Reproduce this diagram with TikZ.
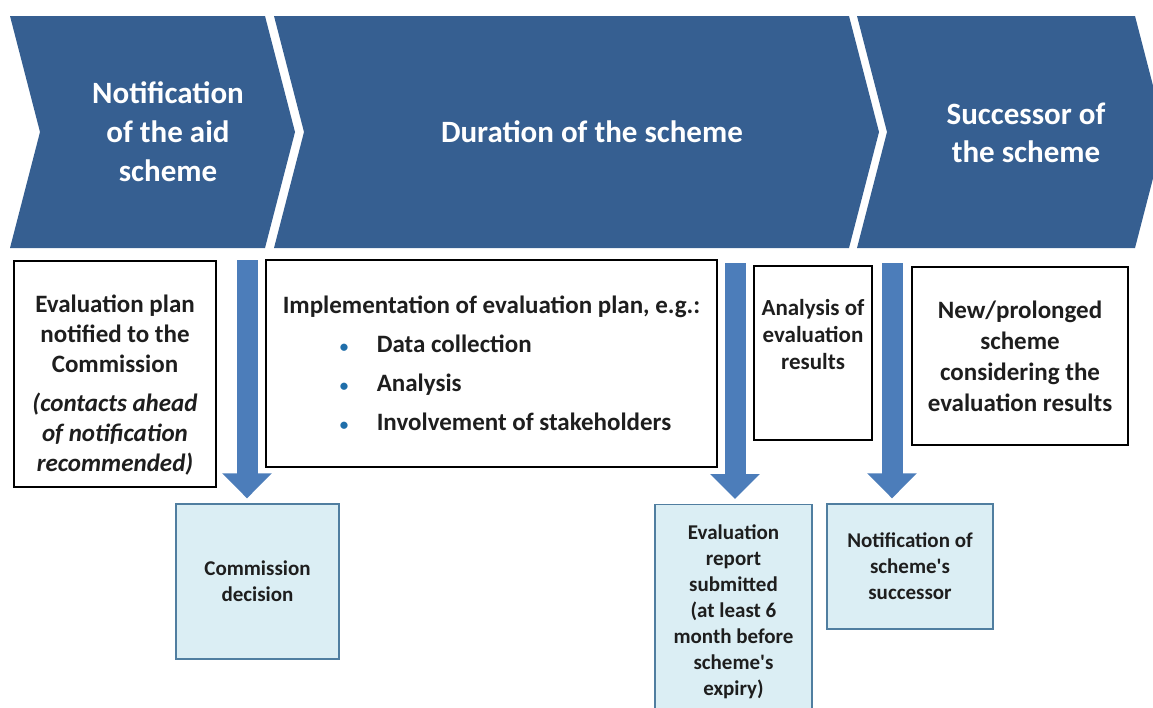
\documentclass[tikz,border=0pt]{standalone}
\usepackage{fontspec}
\setmainfont{Carlito}
\usetikzlibrary{arrows.meta, positioning}

\definecolor{chevblue}{RGB}{54,95,145}
\definecolor{arrowblue}{RGB}{76,125,186}
\definecolor{notefill}{RGB}{219,238,244}
\definecolor{notedraw}{RGB}{80,126,160}
\definecolor{bulletblue}{RGB}{31,110,170}
\definecolor{textdark}{RGB}{30,30,30}

\tikzstyle{phase} = [fill=chevblue, draw=none]
\tikzstyle{phasetext} = [text=white, align=center, font=\fontsize{31}{39}\selectfont\bfseries]
\tikzstyle{task} = [rectangle, draw=black, line width=1.3pt, fill=white, text=textdark, align=center, font=\fontsize{25}{30}\selectfont\bfseries]
\tikzstyle{milestone} = [rectangle, draw=notedraw, line width=1.3pt, fill=notefill, text=textdark, align=center, font=\fontsize{21}{26}\selectfont\bfseries]
\tikzstyle{bigarrow} = [line width=21pt, draw=arrowblue, -{Triangle[length=25pt,width=48pt]}, shorten >=5pt]

\newcommand{\planitem}[1]{\makebox[94pt][l]{\hspace*{57pt}\textcolor{bulletblue}{\fontsize{17}{17}\selectfont\textbullet}}#1}

\begin{document}
\begin{tikzpicture}[x=1pt, y=-1pt]
	\clip (0,0) rectangle (1153,707);

	% phases
	\fill[phase] (10,16) -- (265,16) -- (295,132) -- (265,248) -- (10,248) -- (40,132) -- cycle;
	\fill[phase] (274,16) -- (849,16) -- (879,132) -- (849,248) -- (274,248) -- (304,132) -- cycle;
	\fill[phase] (857,16) -- (1135,16) -- (1165,132) -- (1135,248) -- (857,248) -- (887,132) -- cycle;
	\node (notif) [phasetext] at (168,132) {Notification\\of the aid\\scheme};
	\node (duration) [phasetext] at (592,132) {Duration of the scheme};
	\node (successor) [phasetext, font=\fontsize{31}{38}\selectfont\bfseries] at (1026,133) {Successor of\\the scheme};

	% tasks
	\node (plan) [task, minimum width=202pt, minimum height=226pt] at (115,374) {~\\[10pt]Evaluation plan\\notified to the\\Commission\\[9pt]\itshape(contacts ahead\\\itshape of notification\\\itshape recommended)};
	\node (implement) [task, align=left, font=\fontsize{25}{39}\selectfont\bfseries, minimum width=451pt, minimum height=207pt] at (491.5,363.5) {Implementation of evaluation plan, e.g.:\\\planitem{Data collection}\\\planitem{Analysis}\\\planitem{Involvement of stakeholders}};
	\node (analysis) [task, font=\fontsize{23}{27}\selectfont\bfseries, minimum width=118pt, minimum height=174pt] at (813,353) {Analysis of\\evaluation\\results\\[11pt]~};
	\node (newscheme) [task, font=\fontsize{25}{31}\selectfont\bfseries, minimum width=216pt, minimum height=178pt] at (1020,356) {New/prolonged\\scheme\\considering the\\evaluation results};

	% milestones
	\node (decision) [milestone, minimum width=163pt, minimum height=155pt] at (257.5,581.5) {Commission\\decision};
	\node (report) [milestone, anchor=north, minimum width=157pt, minimum height=215pt] at (733.5,504) {Evaluation\\report\\submitted\\(at least 6\\month before\\scheme\textquotesingle s\\expiry)};
	\node (succnote) [milestone, minimum width=166pt, minimum height=125pt] at (910,566.5) {Notification of\\scheme\textquotesingle s\\successor};

	\coordinate (a1) at (247,260);
	\coordinate (a2) at (735,263);
	\coordinate (a3) at (892,263);
	\draw [bigarrow] (a1) -- (a1 |- decision.north);
	\draw [bigarrow] (a2) -- (a2 |- report.north);
	\draw [bigarrow] (a3) -- (a3 |- succnote.north);
\end{tikzpicture}
\end{document}
